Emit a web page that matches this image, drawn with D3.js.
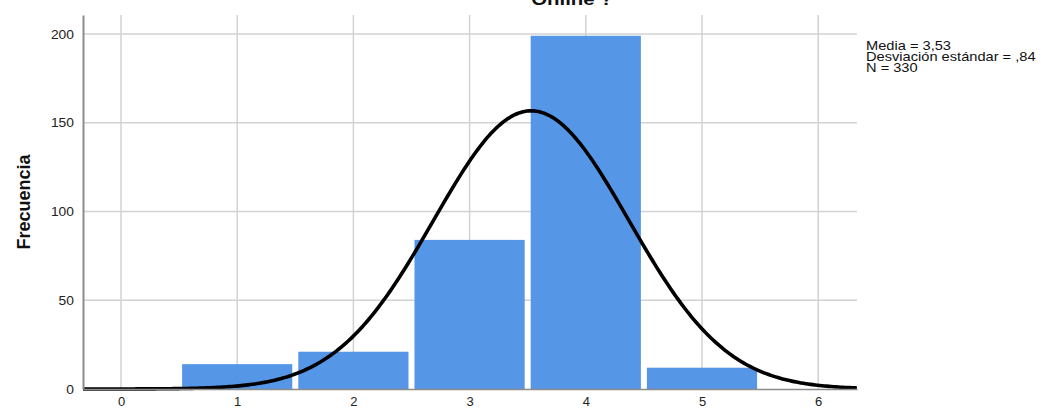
<!DOCTYPE html>
<html>
<head>
<meta charset="utf-8">
<script src="https://cdn.jsdelivr.net/npm/d3@7"></script>
<style>
  html, body { margin: 0; padding: 0; background: #fff; }
  svg { display: block; font-family: "Liberation Sans", Arial, sans-serif; }
</style>
</head>
<body>
<svg id="chart" width="1041" height="408"></svg>
<script>
// Histogram categories and counts
const categories = [1, 2, 3, 4, 5];
const counts = [14, 21, 84, 199, 12];
const xTicks = [0, 1, 2, 3, 4, 5, 6];
const yTicks = [0, 50, 100, 150, 200];
const stats = { mean: 3.53, sd: 0.84, n: 330 };
const statLines = ["Media = 3,53", "Desviación estándar = ,84", "N = 330"];

(function () {
const svg = d3.select("#chart");
const plotL = 83, plotR = 857, plotT = 15, plotB = 389;

const x = d3.scaleLinear().domain([-0.327, 6.334]).range([plotL, plotR]);
const y = d3.scaleLinear().domain([0, 210.7]).range([plotB, plotT]);

// Grid
const grid = svg.append("g").attr("stroke", "#d2d2d2").attr("stroke-width", 1.5);
grid.selectAll("line.v").data(xTicks).join("line").attr("class", "v")
  .attr("x1", d => x(d)).attr("x2", d => x(d))
  .attr("y1", plotT).attr("y2", plotB);
grid.selectAll("line.h").data(yTicks.slice(1)).join("line").attr("class", "h")
  .attr("x1", plotL).attr("x2", plotR)
  .attr("y1", d => y(d)).attr("y2", d => y(d));

// Bars
const gap = 3;
svg.append("g").selectAll("rect").data(categories).join("rect")
  .attr("x", (d) => x(d - 0.5) + gap)
  .attr("width", (d) => x(d + 0.5) - x(d - 0.5) - 2 * gap)
  .attr("y", (d, i) => y(counts[i]))
  .attr("height", (d, i) => y(0) - y(counts[i]))
  .attr("fill", "#5596e6");

// Normal curve scaled to counts (bin width 1)
const pdf = v => stats.n / (stats.sd * Math.sqrt(2 * Math.PI)) *
  Math.exp(-0.5 * Math.pow((v - stats.mean) / stats.sd, 2));
const xs = d3.range(x.domain()[0], x.domain()[1] + 0.001, 0.02);
svg.append("path")
  .datum(xs)
  .attr("fill", "none")
  .attr("stroke", "#000")
  .attr("stroke-width", 3.6)
  .attr("stroke-linejoin", "round")
  .attr("d", d3.line().x(d => x(d)).y(d => y(pdf(d))));

// Axes
const xAxis = svg.append("g").attr("transform", `translate(0,${plotB})`)
  .call(d3.axisBottom(x).tickValues(xTicks).tickSize(0).tickPadding(8).tickFormat(d3.format("d")));
xAxis.select(".domain").attr("stroke", "#8c8c8c").attr("stroke-width", 1.5);
xAxis.selectAll("text").attr("font-size", 13).attr("fill", "#222")
  .attr("font-family", "'Liberation Sans', Arial, sans-serif");

const yAxis = svg.append("g").attr("transform", `translate(${plotL},0)`)
  .call(d3.axisLeft(y).tickValues(yTicks).tickSize(0).tickPadding(9).tickFormat(d3.format("d")));
yAxis.select(".domain").attr("stroke", "#8c8c8c").attr("stroke-width", 2);
yAxis.selectAll("text").attr("font-size", 13).attr("fill", "#222")
  .attr("font-family", "'Liberation Sans', Arial, sans-serif")
  .attr("textLength", d => String(d).length * 7.7).attr("lengthAdjust", "spacingAndGlyphs");

// Titles
svg.append("text")
  .attr("transform", "translate(572,5) scale(1.2,1)")
  .attr("text-anchor", "middle")
  .attr("font-size", 17).attr("font-weight", "bold").attr("fill", "#111")
  .text("Online ?");

svg.append("text")
  .attr("transform", "translate(30,202) rotate(-90)")
  .attr("text-anchor", "middle")
  .attr("font-size", 18).attr("font-weight", "bold").attr("fill", "#111")
  .text("Frecuencia");

// Summary statistics
svg.append("g").attr("transform", "translate(866,0) scale(1.22,1)")
  .selectAll("text").data(statLines).join("text")
  .attr("x", 0).attr("y", (d, i) => 50 + i * 10.8)
  .attr("font-size", 12).attr("fill", "#111")
  .text(d => d);
})();
</script>
</body>
</html>
